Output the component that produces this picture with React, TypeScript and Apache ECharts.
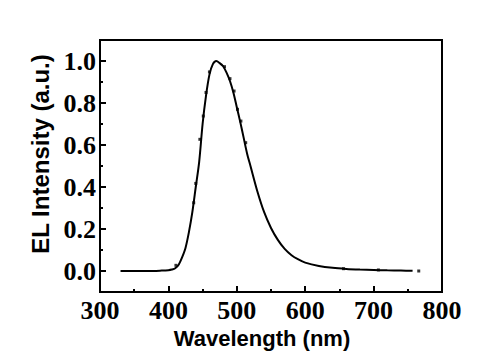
import React, { useEffect, useRef } from "react";
import * as echarts from "echarts";

const wavelength = [330, 350, 370, 390, 400, 405, 410, 415, 420, 425, 430, 435, 440, 445, 450, 455, 460, 465, 470, 475, 480, 485, 490, 495, 500, 505, 510, 515, 520, 530, 540, 550, 560, 570, 580, 590, 600, 620, 640, 660, 680, 700, 720, 740, 757];
const intensity = [0.0, 0.0, 0.0, 0.002, 0.004, 0.007, 0.013, 0.03, 0.065, 0.11, 0.185, 0.28, 0.4, 0.52, 0.7, 0.835, 0.935, 0.985, 1.0, 0.99, 0.975, 0.945, 0.905, 0.85, 0.78, 0.71, 0.635, 0.56, 0.5, 0.38, 0.28, 0.205, 0.148, 0.105, 0.075, 0.055, 0.04, 0.024, 0.015, 0.01, 0.007, 0.005, 0.003, 0.002, 0.001];

const dotX = [411, 437, 440, 446, 451, 455, 460, 482, 490, 496, 501, 506, 513, 656, 707, 766];
const dotY = [0.027, 0.325, 0.417, 0.627, 0.738, 0.85, 0.948, 0.973, 0.916, 0.857, 0.77, 0.714, 0.611, 0.011, 0.005, 0.0];

const yMajor = [0, 0.2, 0.4, 0.6, 0.8, 1.0];
const yMinor = [-0.1, 0.1, 0.3, 0.5, 0.7, 0.9, 1.1];

export default function App() {
  const ref = useRef<HTMLDivElement>(null);
  useEffect(() => {
    document.body.style.margin = "0";
    const chart = echarts.init(ref.current!, null, { renderer: "svg" });
    const labelFont = {
      fontFamily: "Liberation Serif",
      fontWeight: "bold" as const,
      fontSize: 26,
      color: "#000",
    };
    chart.setOption({
      animation: false,
      backgroundColor: "#fff",
      grid: {
        left: 100,
        right: 58,
        top: 40,
        bottom: 59,
        outerBoundsMode: "none",
        containLabel: false,
        show: true,
        borderColor: "#000",
        borderWidth: 2,
      },
      xAxis: {
        type: "value",
        min: 300,
        max: 800,
        interval: 100,
        name: "Wavelength (nm)",
        nameLocation: "middle",
        nameGap: 30,
        nameTextStyle: {
          fontFamily: "Liberation Sans",
          fontWeight: "bold",
          fontSize: 22,
          color: "#000",
          padding: [0, 18, 0, 0],
        },
        axisLine: { show: true, onZero: false, lineStyle: { color: "#000", width: 2 } },
        axisTick: { show: true, inside: true, length: 6, lineStyle: { color: "#000", width: 2 } },
        minorTick: { show: true, splitNumber: 2, length: 3, lineStyle: { color: "#000", width: 2 } },
        axisLabel: { ...labelFont, margin: 5 },
        splitLine: { show: false },
      },
      yAxis: [
        {
          type: "value",
          min: -0.1,
          max: 1.1,
          name: "EL Intensity (a.u.)",
          nameLocation: "middle",
          nameGap: 45,
          nameTextStyle: {
            fontFamily: "Liberation Sans",
            fontWeight: "bold",
            fontSize: 24,
            color: "#000",
            padding: [0, 0, 0, 24],
          },
          axisLine: { show: true, onZero: false, lineStyle: { color: "#000", width: 2 } },
          axisTick: {
            show: true,
            inside: true,
            length: 6,
            customValues: yMajor,
            lineStyle: { color: "#000", width: 2 },
          },
          axisLabel: {
            ...labelFont,
            margin: 4,
            customValues: yMajor,
            formatter: (v: number) => v.toFixed(1),
          },
          splitLine: { show: false },
        },
        {
          type: "value",
          min: -0.1,
          max: 1.1,
          position: "left",
          axisLine: { show: false, onZero: false },
          axisTick: {
            show: true,
            inside: true,
            length: 3,
            customValues: yMinor,
            lineStyle: { color: "#000", width: 2 },
          },
          axisLabel: { show: false },
          splitLine: { show: false },
        },
      ],
      series: [
        {
          type: "line",
          data: wavelength.map((w, i) => [w, intensity[i]]),
          smooth: 0.3,
          showSymbol: false,
          lineStyle: { color: "#000", width: 2 },
        },
        {
          type: "scatter",
          data: dotX.map((w, i) => [w, dotY[i]]),
          symbol: "rect",
          symbolSize: 3,
          itemStyle: { color: "#000" },
        },
      ],
    });
    return () => chart.dispose();
  }, []);
  return <div ref={ref} style={{ width: 500, height: 351 }} />;
}
